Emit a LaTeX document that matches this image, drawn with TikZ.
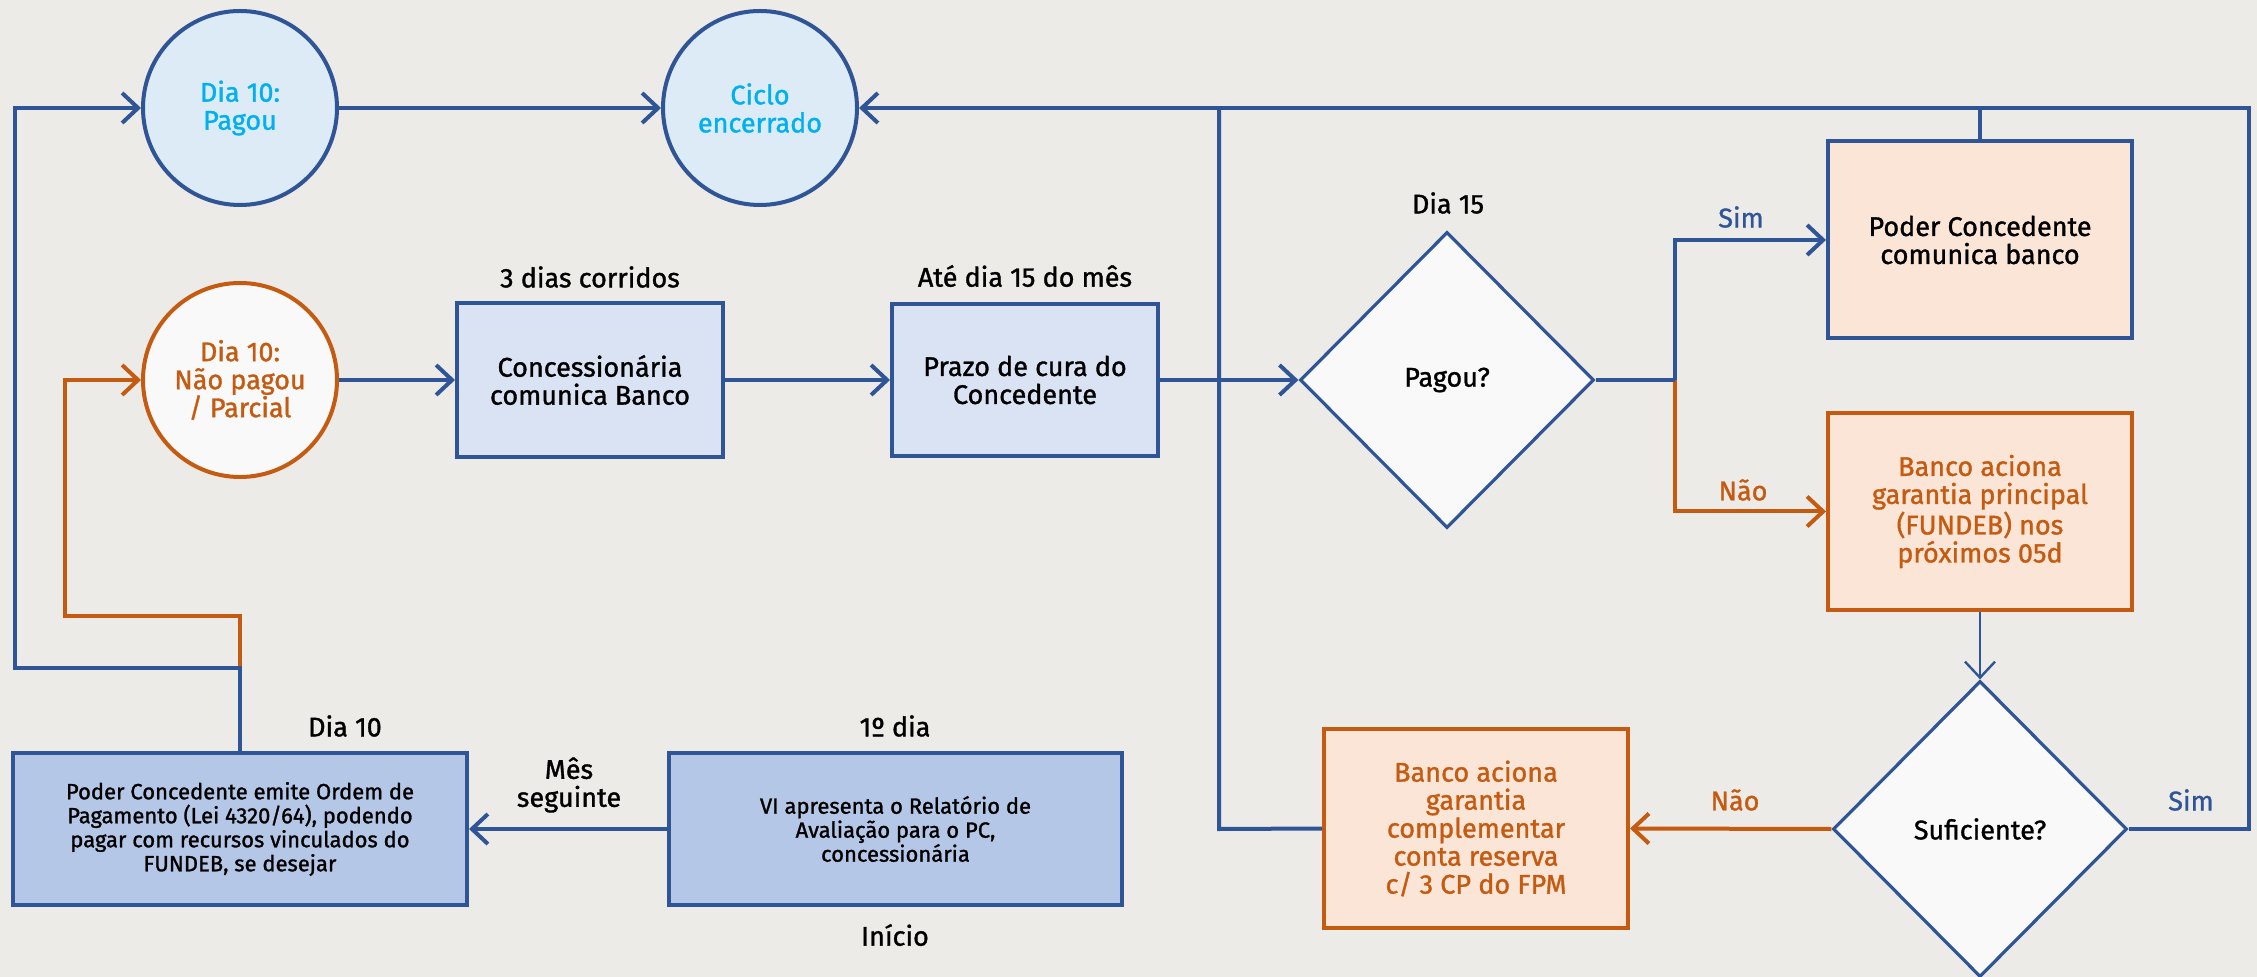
\documentclass[tikz,border=0pt]{standalone}
\usepackage{fontspec}
\setmainfont{Fira Sans}[FakeBold=1.2]
\usetikzlibrary{shapes.geometric,arrows.meta}
\definecolor{bg}{HTML}{EDEBE7}
\definecolor{dblue}{HTML}{2F5597}
\definecolor{orng}{HTML}{C55A11}
\definecolor{cyantext}{HTML}{00B0F0}
\definecolor{lblue}{HTML}{DDEBF7}
\definecolor{boxblue}{HTML}{DAE3F3}
\definecolor{boxblueb}{HTML}{B4C7E7}
\definecolor{peach}{HTML}{FBE5D6}
\definecolor{offwhite}{HTML}{F9F9F9}
\begin{document}
\begin{tikzpicture}[x=0.5pt,y=-0.5pt,
  mainfont/.style={font=\fontsize{13.5}{14}\selectfont},
  smallfont/.style={font=\fontsize{11}{12}\selectfont},
  circ/.style={circle,draw=dblue,line width=2pt,minimum size=97pt,inner sep=0pt,align=center,mainfont},
  stepbox/.style={rectangle,draw=dblue,line width=2pt,inner sep=0pt,align=center,mainfont},
  decision/.style={diamond,draw=dblue,fill=offwhite,line width=1.6pt,inner sep=0pt,minimum width=147pt,minimum height=148pt,align=center,mainfont},
  lbl/.style={inner sep=0pt,align=center,mainfont},
  bl/.style={draw=dblue,line width=2pt},
  orl/.style={draw=orng,line width=2pt},
  arr/.style={-{Straight Barb[length=8pt,width=15pt]}}
]
\useasboundingbox (0,0) rectangle (2257,977);
\fill[bg] (0,0) rectangle (2257,977);

% nodes
\node[circ,fill=lblue,text=cyantext] (pagou) at (240,108) {Dia 10:\\Pagou};
\node[circ,fill=lblue,text=cyantext] (ciclo) at (760,108) {Ciclo\\encerrado};
\node[circ,fill=offwhite,draw=orng,text=orng] (naopagou) at (240,380) {Dia 10:\\Não pagou\\/ Parcial};
\node[stepbox,fill=boxblue,minimum width=133pt,minimum height=77pt] (conc) at (590,380) {Concessionária\\comunica Banco};
\node[stepbox,fill=boxblue,minimum width=133pt,minimum height=76pt] (prazo) at (1025,380) {Prazo de cura do\\Concedente};
\node[decision] (dpagou) at (1447,380) {Pagou?};
\node[stepbox,fill=peach,minimum width=152pt,minimum height=98.5pt] (pcb) at (1980,240) {Poder Concedente\\comunica banco};
\node[stepbox,fill=peach,draw=orng,text=orng,minimum width=152pt,minimum height=98.5pt] (bp) at (1980,511.5) {Banco aciona\\garantia principal\\(FUNDEB) nos\\próximos 05d};
\node[decision] (dsuf) at (1980,829) {Suficiente?};
\node[stepbox,fill=peach,draw=orng,text=orng,minimum width=152pt,minimum height=99.5pt] (comp) at (1476,828.5) {Banco aciona\\garantia\\complementar\\conta reserva\\c/ 3 CP do FPM};
\node[stepbox,fill=boxblueb,smallfont,minimum width=227pt,minimum height=76pt] (emite) at (240,829) {Poder Concedente emite Ordem de\\Pagamento (Lei 4320/64), podendo\\pagar com recursos vinculados do\\FUNDEB, se desejar};
\node[stepbox,fill=boxblueb,smallfont,minimum width=226.5pt,minimum height=76pt] (vi) at (895.5,829) {VI apresenta o Relatório de\\Avaliação para o PC,\\concessionária};

% labels
\node[lbl] (l3d) at (590,277) {3 dias corridos};
\node[lbl] (late) at (1025,276) {Até dia 15 do mês};
\node[lbl] (ld15) at (1448,203) {Dia 15};
\node[lbl,text=dblue] (lsim1) at (1741,217) {Sim};
\node[lbl,text=orng] (lnao1) at (1743,490) {Não};
\node[lbl,text=orng] (lnao2) at (1735,800) {Não};
\node[lbl,text=dblue] (lsim2) at (2191,800) {Sim};
\node[lbl] (ld10) at (345,726) {Dia 10};
\node[lbl] (l1d) at (895,726) {1º dia};
\node[lbl] (linicio) at (895,935) {Início};
\node[lbl] (lmes) at (569,785) {Mês\\seguinte};

% connectors
\coordinate (j1) at (240,668);
\coordinate (br) at (1675,380);
\draw[orl,arr] (j1) -- (240,616) -- (65,616) |- (naopagou.west);
\draw[bl,arr] (emite.north) -- (j1) -- (15,668) |- (pagou.west);
\draw[bl,arr] (pagou.east) -- (ciclo.west);
\draw[bl,arr] (naopagou.east) -- (conc.west);
\draw[bl,arr] (conc.east) -- (prazo.west);
\draw[bl] (comp.west) -- (1219,829) -- (1219,108);
\draw[bl,arr] (prazo.east) -- (dpagou.west);
\draw[orl,arr] (br) |- (bp.west);
\draw[bl,arr] (br) |- (pcb.west);
\draw[bl] (dpagou.east) -- (br);
\draw[bl] (pcb.north) -- (pcb.north |- ciclo.east);
\draw[draw=dblue,line width=1.2pt,arr] (bp.south) -- (dsuf.north);
\draw[orl,arr] (dsuf.west) -- (comp.east);
\draw[bl,arr] (dsuf.east) -- (2249,829) -- (2249,108) -- (ciclo.east);
\draw[bl,arr] (vi.west) -- (emite.east);
\end{tikzpicture}
\end{document}
